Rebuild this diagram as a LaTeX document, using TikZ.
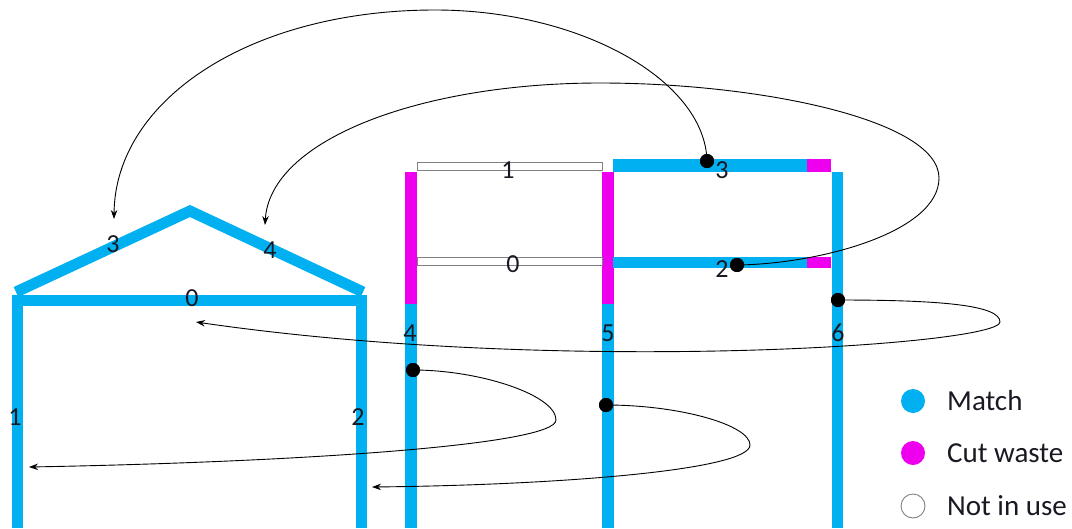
\documentclass[tikz,border=0pt]{standalone}
\usepackage{fontspec}
\setmainfont{Carlito}
\usetikzlibrary{arrows.meta}
\definecolor{matchblue}{RGB}{0,176,240}
\definecolor{cutmag}{RGB}{238,0,238}
\definecolor{unusedgray}{RGB}{128,128,128}
\definecolor{labelcol}{RGB}{25,25,35}
\begin{document}
\begin{tikzpicture}[x=1pt,y=-1pt,
  bluebar/.style={fill=matchblue,draw=none},
  magbar/.style={fill=cutmag,draw=none},
  unused/.style={draw=unusedgray,line width=0.9pt,fill=white},
  link/.style={line width=0.9pt,-{Stealth[length=9pt,width=6.5pt]}},
  dotnode/.style={circle,fill=black,inner sep=0pt,minimum size=14pt},
  lbl/.style={inner sep=0pt,text=labelcol,font=\fontsize{26}{28}\selectfont},
  legtext/.style={anchor=west,inner sep=0pt,text=labelcol,font=\fontsize{29}{32}\selectfont},
  legdot/.style={circle,inner sep=0pt,minimum size=24pt}]
\useasboundingbox (0,0) rectangle (1072,528);
% ---------- house ----------
\fill[bluebar] (12,297) rectangle (23,528);
\fill[bluebar] (356,297) rectangle (367,528);
\fill[bluebar] (12,295) rectangle (367,306);
\draw[matchblue,line width=11pt,line join=miter] (16,292) -- (190,211) -- (363,292);
\node[lbl] (h3) at (113,244) {3};
\node[lbl] (h4) at (270,250) {4};
\node[lbl] (h0) at (192,298) {0};
\node[lbl] (h1) at (15,417) {1};
\node[lbl] (h2) at (358,417) {2};
% ---------- source frame ----------
\fill[magbar] (405,172) rectangle (417,304);
\fill[bluebar] (405,304) rectangle (417,528);
\fill[magbar] (602,172) rectangle (614,304);
\fill[bluebar] (602,304) rectangle (614,528);
\fill[bluebar] (832,172) rectangle (843,528);
\fill[bluebar] (613,159) rectangle (807,172);
\fill[magbar] (807,159) rectangle (831,172);
\fill[bluebar] (613,257) rectangle (807,268);
\fill[magbar] (807,257) rectangle (831,268);
\draw[unused] (417,162) rectangle (602,170);
\draw[unused] (417,257) rectangle (602,265);
\node[lbl] (s1) at (508,170) {1};
\node[lbl] (s0) at (513,264) {0};
\node[lbl] (s3) at (722,170) {3};
\node[lbl] (s2) at (722,269) {2};
\node[lbl] (s4) at (410,333) {4};
\node[lbl] (s5) at (608,333) {5};
\node[lbl] (s6) at (838,333) {6};
% ---------- dots ----------
\node[dotnode] (d3) at (707,161) {};
\node[dotnode] (d2) at (737,265) {};
\node[dotnode] (d6) at (838,300) {};
\node[dotnode] (d4) at (413,370) {};
\node[dotnode] (d5) at (606,405) {};
% ---------- arrow targets ----------
\coordinate (a3) at (114,219);
\coordinate (a4) at (265,225);
\coordinate (a0) at (196,322);
\coordinate (a1) at (29,467);
\coordinate (a2) at (372,487);
% ---------- connectors ----------
\draw[link] (d3.center) .. controls (705,80) and (580,10) .. (435,10)
  .. controls (250,10) and (115,100) .. (a3);
\draw[link] (d2.center) .. controls (820,264) and (939,232) .. (939,178)
  .. controls (939,120) and (760,83) .. (600,83)
  .. controls (420,83) and (270,140) .. (a4);
\draw[link] (d6.center) .. controls (940,300) and (1000,305) .. (1000,322)
  .. controls (1000,345) and (560,375) .. (a0);
\draw[link] (d4.center) .. controls (480,370) and (556,395) .. (556,420)
  .. controls (556,445) and (300,462) .. (a1);
\draw[link] (d5.center) .. controls (680,405) and (750,425) .. (750,445)
  .. controls (750,470) and (560,485) .. (a2);
% redraw dots on top
\foreach \d in {d3,d2,d6,d4,d5} \fill (\d) circle (7pt);
% ---------- legend ----------
\node[legdot,fill=matchblue] (l1) at (913,401) {};
\node[legdot,fill=cutmag] (l2) at (913,453) {};
\node[legdot,draw=unusedgray,line width=0.9pt,fill=white] (l3) at (913,506) {};
\node[legtext] (t1) at (947,401) {Match};
\node[legtext] (t2) at (947,453) {Cut waste};
\node[legtext] (t3) at (947,506) {Not in use};
\end{tikzpicture}
\end{document}
